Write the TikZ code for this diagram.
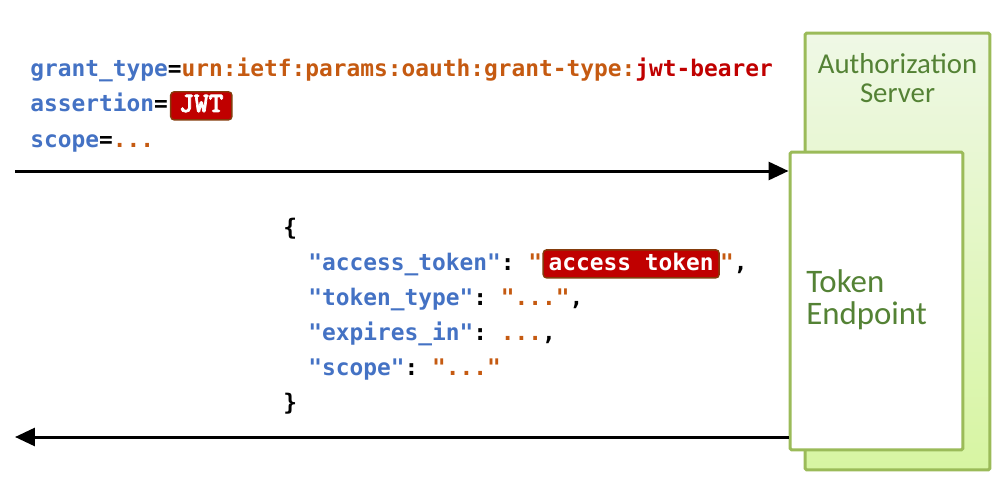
\documentclass[tikz,border=0pt]{standalone}
\usepackage{fontspec}
\setmonofont{DejaVu Sans Mono}
\newfontfamily\labelfont{Carlito}
\newfontfamily\badgefont{lmmonolt10-bold.otf}[FakeBold=2.5]
\usetikzlibrary{arrows.meta,positioning}

\definecolor{keyblue}{HTML}{4472C4}
\definecolor{valorange}{HTML}{C55A11}
\definecolor{valred}{HTML}{C00000}
\definecolor{badgeborder}{HTML}{843C0C}
\definecolor{boxgreen}{HTML}{9BBB59}
\definecolor{labelgreen}{HTML}{548235}
\definecolor{servertop}{HTML}{EFF8E6}
\definecolor{serverbottom}{HTML}{D7F5A2}

\tikzset{
    code/.style = {inner sep=0pt, anchor=base west, font=\fontsize{13}{15}\selectfont\ttfamily\bfseries},
    badge/.style = {code, fill=valred, draw=badgeborder, line width=0.8pt, rounded corners=2pt,
        text=white, inner xsep=0.11cm, text height=9.5pt, text depth=2.5pt, inner ysep=2pt},
    box/.style = {draw=boxgreen, line width=0.06cm, rounded corners=1pt},
    msg/.style = {line width=0.06cm, -{Triangle[length=0.4cm,width=0.36cm]}},
}

\begin{document}
\begin{tikzpicture}[x=0.02cm, y=-0.02cm]
    \useasboundingbox (0,0) rectangle (1000,483);

    % authorization server with its token endpoint
    \node[box, top color=servertop, bottom color=serverbottom, minimum width=3.7cm, minimum height=8.74cm] (server) at (897.5,251.5) {};
    \node[text=labelgreen, align=center, font=\fontsize{16.4}{16.6}\selectfont\labelfont] (serverlabel) at (897.5,78) {Authorization\\Server};
    \node[box, fill=white, minimum width=3.46cm, minimum height=5.96cm] (endpoint) at (876.5,301) {};
    \node[text=labelgreen, align=left, inner sep=0pt, anchor=west, font=\fontsize{18.7}{18.4}\selectfont\labelfont] (endpointlabel) at (806,300) {Token\\Endpoint};

    % token request
    \node[code] (grant) at (30,77) {\textcolor{keyblue}{grant\_type}=\textcolor{valorange}{urn:ietf:params:oauth:grant-type:}\textcolor{valred}{jwt-bearer}};
    \node[code] (assertion) at (30,112) {\textcolor{keyblue}{assertion}=};
    \node[badge, font=\fontsize{16}{16}\selectfont\badgefont, inner xsep=0.17cm] (jwt) at ([xshift=1pt]assertion.base east) {JWT};
    \node[code] (scope) at (30,147) {\textcolor{keyblue}{scope}=\textcolor{valorange}{...}};

    \coordinate (reqline) at (15,171);
    \draw[msg] (reqline) -- (reqline -| endpoint.west);

    % token response
    \node[code] (open) at (283,235) {\{};
    \node[code] (at) at (308,270) {\textcolor{keyblue}{"access\_token"}: \textcolor{valorange}{"}};
    \node[badge] (atbadge) at (at.base east) {access token};
    \node[code] (atend) at (atbadge.base east) {\textcolor{valorange}{"},};
    \node[code] (tt) at (308,305) {\textcolor{keyblue}{"token\_type"}: \textcolor{valorange}{"..."},};
    \node[code] (exp) at (308,340) {\textcolor{keyblue}{"expires\_in"}: \textcolor{valorange}{...},};
    \node[code] (sc) at (308,375) {\textcolor{keyblue}{"scope"}: \textcolor{valorange}{"..."}};
    \node[code] (close) at (283,410) {\}};

    \coordinate (respline) at (15,437);
    \draw[msg] (respline -| endpoint.west) -- (respline);
\end{tikzpicture}
\end{document}
